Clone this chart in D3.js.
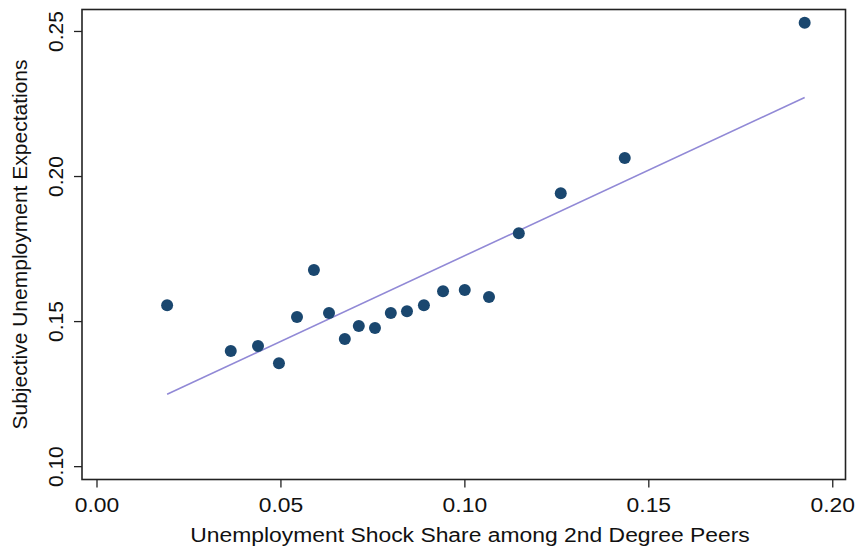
<!DOCTYPE html>
<html lang="en">
<head>
    <meta charset="UTF-8">
    <title>Unemployment expectations</title>
    <style>
        body { margin: 0; background: #fff; }
        text { font-family: "Liberation Sans", Arial, sans-serif; }
    </style>
</head>
<body>

    <svg id="svg" width="857" height="548"></svg>

    <script src="https://d3js.org/d3.v7.min.js"></script>
    <script>
        // binned scatter: shock share among 2nd degree peers vs expectations
        const shockShare = [0.0192, 0.0365, 0.0439, 0.0496, 0.0545, 0.0591, 0.0632, 0.0675, 0.0713, 0.0757,
                            0.0800, 0.0844, 0.0890, 0.0942, 0.1001, 0.1067, 0.1148, 0.1262, 0.1436, 0.1925]
        const expectation = [0.1555, 0.1397, 0.1414, 0.1355, 0.1514, 0.1676, 0.1528, 0.1438, 0.1483, 0.1476,
                             0.1528, 0.1534, 0.1555, 0.1603, 0.1607, 0.1583, 0.1803, 0.1941, 0.2062, 0.2528]
        // fitted line end points
        const fitX = [0.0192, 0.1925]
        const fitY = [0.1248, 0.2271]

        const xTicks = [0, 0.05, 0.10, 0.15, 0.20]
        const yTicks = [0.10, 0.15, 0.20, 0.25]

        const data = shockShare.map((x, i) => ({x: x, y: expectation[i]}))

        const plotLeft = 82, plotRight = 845.5, plotTop = 9.5, plotBottom = 479.5
        const fontSize = 21
        const stretch = 1.09   // horizontal text is a bit wide in the original

        const xScale = d3.scaleLinear()
            .domain([-0.00394, 0.2036])
            .range([plotLeft, plotRight])

        const yScale = d3.scaleLinear()
            .domain([0.0954, 0.2574])
            .range([plotBottom, plotTop])

        const svg = d3.select('#svg')

        // frame
        svg.append('rect')
            .attr('x', plotLeft)
            .attr('y', plotTop)
            .attr('width', plotRight - plotLeft)
            .attr('height', plotBottom - plotTop)
            .attr('fill', 'none')
            .attr('stroke', '#222')
            .attr('stroke-width', 1.6)

        const xAxis = svg.append('g')
            .attr('transform', `translate(0,${plotBottom})`)
            .call(d3.axisBottom(xScale).tickValues(xTicks).tickFormat(d3.format('.2f')).tickSize(8))
        xAxis.select('.domain').remove()
        xAxis.selectAll('line').attr('stroke', '#222').attr('stroke-width', 1.3)
        xAxis.selectAll('text')
            .attr('font-size', fontSize).attr('fill', '#111')
            .attr('font-family', '"Liberation Sans", Arial, sans-serif')
            .attr('y', null).attr('dy', null)
            .attr('transform', `translate(0,32) scale(${stretch},1)`)

        const yAxis = svg.append('g')
            .attr('transform', `translate(${plotLeft},0)`)
            .call(d3.axisLeft(yScale).tickValues(yTicks).tickFormat(d3.format('.2f')).tickSize(8))
        yAxis.select('.domain').remove()
        yAxis.selectAll('line').attr('stroke', '#222').attr('stroke-width', 1.3)
        yAxis.selectAll('text')
            .attr('font-size', fontSize).attr('fill', '#111')
            .attr('font-family', '"Liberation Sans", Arial, sans-serif')
            .attr('x', null).attr('dy', null)
            .attr('text-anchor', 'middle')
            .attr('transform', 'translate(-19,0) rotate(-90)')

        // fit line
        svg.append('line')
            .attr('x1', xScale(fitX[0]))
            .attr('y1', yScale(fitY[0]))
            .attr('x2', xScale(fitX[1]))
            .attr('y2', yScale(fitY[1]))
            .attr('stroke', '#9189d6')
            .attr('stroke-width', 1.6)

        svg.selectAll('circle')
            .data(data)
            .enter()
            .append('circle')
            .attr('cx', d => xScale(d.x))
            .attr('cy', d => yScale(d.y))
            .attr('r', 6)
            .attr('fill', '#1a476f')

        svg.append('text')
            .attr('transform', `translate(470,542) scale(${stretch},1)`)
            .attr('text-anchor', 'middle')
            .attr('font-size', fontSize)
            .attr('fill', '#111')
            .text('Unemployment Shock Share among 2nd Degree Peers')

        svg.append('text')
            .attr('transform', `translate(27,${(plotTop + plotBottom) / 2}) rotate(-90)`)
            .attr('text-anchor', 'middle')
            .attr('font-size', fontSize)
            .attr('fill', '#111')
            .text('Subjective Unemployment Expectations')
    </script>
</body>
</html>
